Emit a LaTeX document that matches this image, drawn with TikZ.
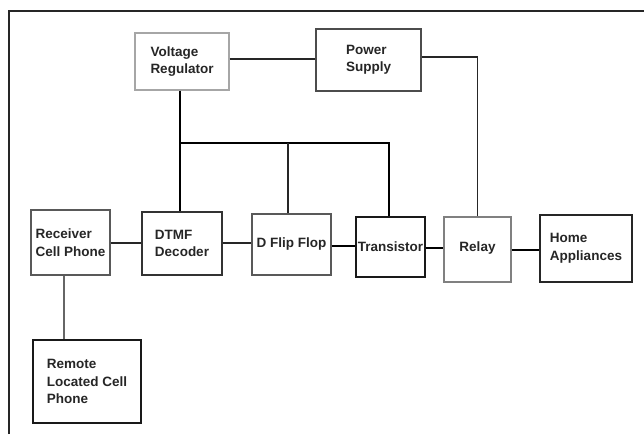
\documentclass[tikz,border=0pt]{standalone}
\usepackage{fontspec}
\setmainfont{Liberation Sans}
\begin{document}
\begin{tikzpicture}[x=1pt,y=-1pt,
  blk/.style={draw=#1,line width=1.1pt,rectangle,inner sep=0pt,align=left,
    font=\fontsize{13.5}{17.5}\selectfont\bfseries,text=black!85},
  blk/.default={black!80},
  thin/.style={line width=1.7pt,draw=black!85},
  thick/.style={line width=2.8pt,draw=black},
  fine/.style={line width=1.2pt,draw=black!60}]
\useasboundingbox (0,0) rectangle (644,434);
\fill[white] (0,0) rectangle (644,434);
% outer frame
\draw[line width=2pt,black!85] (9,434) -- (9,10.5) -- (644,10.5);
% boxes
\node[blk={black!35},minimum width=94,minimum height=57] (vr) at (182,61.5) {Voltage\\Regulator};
\node[blk={black!70},minimum width=105,minimum height=62] (ps) at (368.5,60) {Power\\Supply};
\node[blk={black!65},minimum width=79,minimum height=65] (rc) at (70.5,242.5) {Receiver\\Cell Phone};
\node[blk,minimum width=80,minimum height=63] (dtmf) at (182,243.5) {DTMF\\Decoder};
\node[blk={black!65},minimum width=79,minimum height=61] (dff) at (291.5,244.5) {D Flip Flop};
\node[blk={black!90},minimum width=69,minimum height=60] (tr) at (390.5,247) {Transistor};
\node[blk={black!50},minimum width=67,minimum height=65] (rl) at (477.5,249.5) {\raisebox{5pt}{Relay}};
\node[blk={black!85},minimum width=92,minimum height=67] (ha) at (586,248.5) {Home\\Appliances};
\node[blk={black!90},minimum width=108,minimum height=83] (rm) at (87,381.5) {Remote\\Located Cell\\Phone};
% helper coordinates
\coordinate (c59) at (0,59);
\coordinate (c57) at (0,57);
\coordinate (bx) at (180,143);
\coordinate (bm) at (288,143);
\coordinate (be) at (389,143);
\coordinate (rx) at (64,0);
\coordinate (h243) at (0,243);
\coordinate (h246) at (0,246);
\coordinate (h248) at (0,248);
\coordinate (h250) at (0,250);
% connectors
\draw[thin] (vr.east |- c59) -- (ps.west |- c59);
\draw[thin] (ps.east |- c57) -| (rl.north);
\draw[thick] (vr.south -| bx) -- (dtmf.north -| bx);
\draw[thick] (bx) -- (be) -- (tr.north -| be);
\draw[thin] (bm) -- (dff.north -| bm);
\draw[thin] (rc.east |- h243) -- (dtmf.west |- h243);
\draw[thin] (dtmf.east |- h243) -- (dff.west |- h243);
\draw[thick] (dff.east |- h246) -- (tr.west |- h246);
\draw[thick] (tr.east |- h248) -- (rl.west |- h248);
\draw[thick] (rl.east |- h250) -- (ha.west |- h250);
\draw[fine] (rc.south -| rx) -- (rm.north -| rx);
\end{tikzpicture}
\end{document}
